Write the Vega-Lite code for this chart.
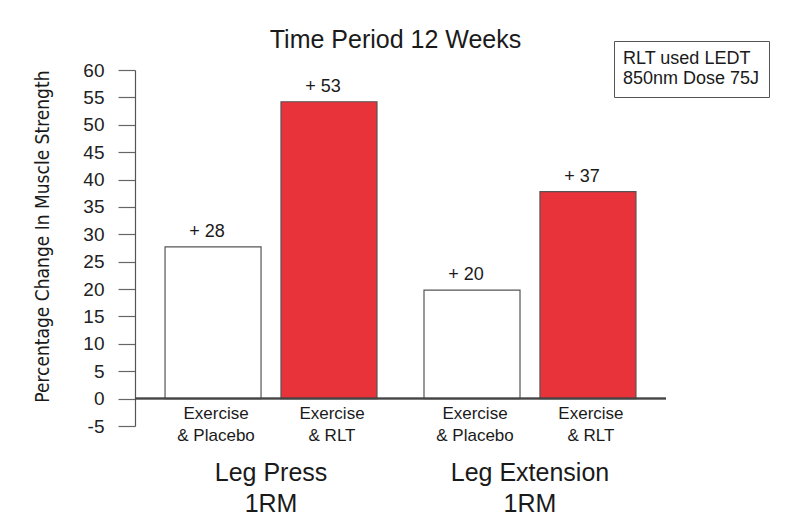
{
  "$schema": "https://vega.github.io/schema/vega-lite/v6.json",
  "autosize": {"type": "none"},
  "width": 531,
  "height": 356,
  "padding": {"left": 135, "top": 70, "right": 134, "bottom": 105},
  "background": "white",
  "config": {
    "view": {"stroke": null},
    "font": "Liberation Sans",
    "axis": {"grid": false}
  },
  "title": {
    "text": "Time Period 12 Weeks",
    "fontSize": 25,
    "fontWeight": "normal",
    "color": "#1a1a1a",
    "baseline": "bottom",
    "offset": -37,
    "dx": -5
  },
  "data": {
    "values": [
      {"exercise": "Leg Press|1RM", "treatment": "Exercise|& Placebo", "group": "Placebo", "value": 27.7, "label": "+ 28"},
      {"exercise": "Leg Press|1RM", "treatment": "Exercise|& RLT", "group": "RLT", "value": 54.2, "label": "+ 53"},
      {"exercise": "Leg Extension|1RM", "treatment": "Exercise|& Placebo", "group": "Placebo", "value": 19.8, "label": "+ 20"},
      {"exercise": "Leg Extension|1RM", "treatment": "Exercise|& RLT", "group": "RLT", "value": 37.8, "label": "+ 37"}
    ]
  },
  "encoding": {
    "x": {
      "field": "exercise",
      "type": "nominal",
      "sort": null,
      "scale": {"paddingInner": 0.1815, "paddingOuter": 0.116},
      "axis": {
        "title": null,
        "domain": false,
        "ticks": false,
        "labelAngle": 0,
        "labelExpr": "split(datum.label, '|')",
        "labelFontSize": 25,
        "labelLineHeight": 31,
        "labelColor": "#1a1a1a",
        "labelPadding": 34,
        "labelBaseline": "top"
      }
    },
    "xOffset": {
      "field": "group",
      "type": "nominal",
      "sort": null,
      "scale": {"paddingInner": 0.172, "paddingOuter": 0}
    }
  },
  "layer": [
    {
      "mark": {"type": "bar", "stroke": "#555555", "strokeWidth": 1.2},
      "encoding": {
        "y": {
          "field": "value",
          "type": "quantitative",
          "scale": {"domain": [-5, 60], "nice": false, "zero": false},
          "axis": {
            "values": [-5, 0, 5, 10, 15, 20, 25, 30, 35, 40, 45, 50, 55, 60],
            "tickCount": 20,
            "labelExpr": "datum.value",
            "labelOverlap": false,
            "title": "Percentage Change In Muscle Strength",
            "titleFont": "DejaVu Sans Condensed",
            "titleFontSize": 19,
            "titleFontWeight": "normal",
            "titleColor": "#1a1a1a",
            "titleAnchor": "end",
            "titlePadding": 30,
            "labelFontSize": 19,
            "labelColor": "#222222",
            "labelPadding": 14,
            "tickSize": 17,
            "tickColor": "#666666",
            "tickWidth": 1.2,
            "domainColor": "#555555",
            "domainWidth": 1.2
          }
        },
        "y2": {"datum": 0},
        "fill": {
          "field": "group",
          "type": "nominal",
          "scale": {"domain": ["Placebo", "RLT"], "range": ["#ffffff", "#e9333a"]},
          "legend": {
            "values": [],
            "orient": "none",
            "legendX": 479,
            "legendY": -29,
            "title": ["RLT used LEDT", "850nm Dose 75J"],
            "titleFontSize": 18,
            "titleFontWeight": "normal",
            "titleColor": "#1a1a1a",
            "titleAlign": "left",
            "titleAnchor": "start",
            "titleLineHeight": 20,
            "titlePadding": 0,
            "padding": 9,
            "strokeColor": "#555555",
            "fillColor": "white"
          }
        }
      }
    },
    {
      "mark": {"type": "rule", "color": "#444444", "strokeWidth": 1.5},
      "encoding": {"y": {"datum": 0}, "x": {"value": 0}, "x2": {"value": 531}, "xOffset": null}
    },
    {
      "mark": {"type": "text", "fontSize": 18, "color": "#1a1a1a", "baseline": "bottom", "dy": -6, "dx": -6},
      "encoding": {
        "y": {"field": "value", "type": "quantitative"},
        "text": {"field": "label"}
      }
    },
    {
      "mark": {"type": "text", "fontSize": 17, "color": "#1a1a1a", "baseline": "top", "lineHeight": 22, "lineBreak": "|", "dx": 3},
      "encoding": {
        "y": {"datum": -1.4},
        "text": {"field": "treatment", "type": "nominal"}
      }
    }
  ]
}
